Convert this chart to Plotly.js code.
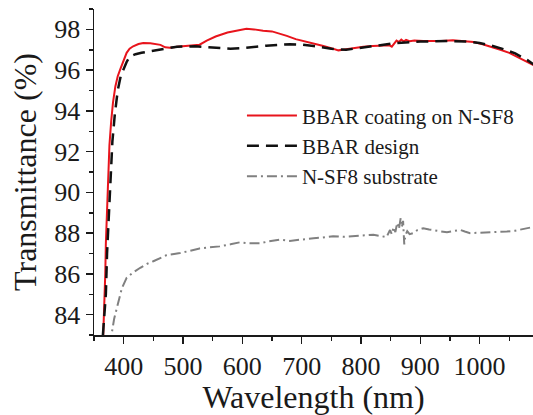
<!DOCTYPE html>
<html>
<head>
<meta charset="utf-8">
<script src="https://cdn.plot.ly/plotly-3.0.1.min.js"></script>
<style>
  html, body { margin: 0; padding: 0; background: #ffffff; }
  #chart { width: 533px; height: 415px; }
</style>
</head>
<body>
<div id="chart"></div>
<script>
// Measured BBAR coating on N-SF8
const coatingWavelength = [365, 367, 369, 370, 372, 374, 376, 379, 382, 386, 390, 395, 400, 405, 410, 416, 425, 433, 445, 455, 462, 470, 478, 490, 500, 515, 528, 540, 555, 575, 590, 607, 620, 635, 650, 663, 675, 690, 705, 720, 735, 750, 762, 775, 790, 804, 820, 835, 848, 852, 856, 860, 864, 868, 872, 876, 882, 890, 905, 916, 935, 955, 975, 990, 1005, 1020, 1035, 1050, 1062, 1075, 1090, 1095];
const coatingT = [82.5, 84, 86, 87.5, 89.5, 91.2, 92.3, 93.5, 94.4, 95.2, 95.7, 96.1, 96.5, 96.85, 97.05, 97.17, 97.28, 97.33, 97.32, 97.28, 97.24, 97.12, 97.1, 97.15, 97.18, 97.2, 97.25, 97.45, 97.65, 97.85, 97.95, 98.03, 98.0, 97.93, 97.9, 97.8, 97.68, 97.52, 97.42, 97.33, 97.2, 97.08, 96.97, 97.02, 97.1, 97.15, 97.18, 97.2, 97.22, 97.15, 97.3, 97.45, 97.38, 97.5, 97.4, 97.48, 97.42, 97.45, 97.43, 97.43, 97.43, 97.47, 97.43, 97.38, 97.27, 97.15, 97.0, 96.85, 96.68, 96.5, 96.27, 96.18];

// BBAR design
const designWavelength = [365, 370, 372, 375, 378, 381, 385, 390, 395, 400, 405, 410, 420, 430, 450, 470, 490, 520, 550, 580, 600, 640, 680, 700, 720, 750, 775, 800, 830, 860, 900, 950, 980, 1000, 1020, 1040, 1060, 1080, 1095];
const designT = [83, 85, 87, 89, 91, 92.5, 93.8, 95, 95.7, 96.1, 96.4, 96.65, 96.78, 96.85, 96.95, 97.08, 97.15, 97.17, 97.12, 97.05, 97.08, 97.2, 97.27, 97.25, 97.18, 97.05, 97.0, 97.1, 97.2, 97.33, 97.4, 97.43, 97.4, 97.33, 97.2, 97.03, 96.82, 96.5, 96.2];

// N-SF8 substrate
const substrateWavelength = [378, 380, 384, 388, 392, 397, 405, 415, 428, 440, 450, 462, 473, 485, 495, 510, 528, 545, 562, 580, 596, 612, 630, 645, 663, 680, 692, 705, 720, 735, 753, 770, 787, 805, 821, 835, 843, 849, 852, 855, 858, 861, 864, 867, 869, 871, 873, 875, 878, 882, 888, 895, 905, 915, 922, 935, 945, 955, 967, 975, 984, 1000, 1012, 1030, 1046, 1060, 1068, 1080, 1090];
const substrateT = [82.5, 83.1, 83.8, 84.3, 84.8, 85.3, 85.8, 86.05, 86.3, 86.5, 86.62, 86.8, 86.93, 86.98, 87.02, 87.12, 87.25, 87.3, 87.35, 87.45, 87.55, 87.5, 87.5, 87.6, 87.68, 87.62, 87.67, 87.72, 87.75, 87.78, 87.85, 87.82, 87.86, 87.9, 87.92, 87.85, 87.8, 88.15, 87.95, 88.3, 88.05, 88.5, 88.2, 88.75, 88.3, 88.6, 87.45, 87.9, 88.1, 87.95, 88.0, 88.15, 88.24, 88.18, 88.15, 88.1, 88.04, 88.1, 88.16, 88.08, 88.0, 88.02, 88.03, 88.05, 88.08, 88.12, 88.16, 88.25, 88.3];

const seriesNames = ["BBAR coating on N-SF8", "BBAR design", "N-SF8 substrate"];
const xTickValues = [400, 500, 600, 700, 800, 900, 1000];
const yTickValues = [84, 86, 88, 90, 92, 94, 96, 98];

const font = "'Liberation Serif', 'Times New Roman', serif";

const traces = [
  {
    x: coatingWavelength, y: coatingT, name: seriesNames[0],
    type: "scatter", mode: "lines",
    line: { color: "#e8141c", width: 2 }
  },
  {
    x: designWavelength, y: designT, name: seriesNames[1],
    type: "scatter", mode: "lines",
    line: { color: "#111111", width: 2.5, dash: "12px,7px" }
  },
  {
    x: substrateWavelength, y: substrateT, name: seriesNames[2],
    type: "scatter", mode: "lines",
    line: { color: "#808080", width: 2, dash: "10px,4px,2px,4px" }
  }
];

const layout = {
  width: 533, height: 415,
  margin: { l: 94, r: 0, t: 9, b: 80, pad: 0 },
  paper_bgcolor: "#ffffff", plot_bgcolor: "#ffffff",
  font: { family: font, color: "#1a1a1a", size: 26 },
  showlegend: true,
  legend: {
    x: 0.337, y: 0.735, xanchor: "left", yanchor: "top",
    bgcolor: "rgba(0,0,0,0)", borderwidth: 0,
    font: { family: font, size: 21, color: "#1a1a1a" },
    itemwidth: 50, tracegroupgap: 0
  },
  xaxis: {
    range: [350, 1090],
    tickvals: xTickValues,
    ticktext: xTickValues.map(String),
    ticks: "outside", ticklen: 7, tickwidth: 1.5, tickcolor: "#1a1a1a",
    minor: { tickvals: [350, 450, 550, 650, 750, 850, 950, 1050], ticks: "outside", ticklen: 4, tickwidth: 1.5, tickcolor: "#1a1a1a" },
    showline: true, linecolor: "#1a1a1a", linewidth: 1.5,
    showgrid: false, zeroline: false,
    tickfont: { family: font, size: 26, color: "#1a1a1a" },
    title: { text: "Wavelength (nm)", font: { family: font, size: 32, color: "#1a1a1a" }, standoff: 2 }
  },
  yaxis: {
    range: [83, 99],
    tickvals: yTickValues,
    ticktext: yTickValues.map(String),
    ticks: "outside", ticklen: 7, tickwidth: 1.5, tickcolor: "#1a1a1a",
    minor: { tickvals: [83, 85, 87, 89, 91, 93, 95, 97, 99], ticks: "outside", ticklen: 4, tickwidth: 1.5, tickcolor: "#1a1a1a" },
    showline: true, linecolor: "#1a1a1a", linewidth: 1.5,
    showgrid: false, zeroline: false,
    tickfont: { family: font, size: 26, color: "#1a1a1a" },
    title: { text: "Transmittance (%)", font: { family: font, size: 32, color: "#1a1a1a" }, standoff: 8 }
  }
};

Plotly.newPlot("chart", traces, layout, { displayModeBar: false, staticPlot: true });
</script>
</body>
</html>
